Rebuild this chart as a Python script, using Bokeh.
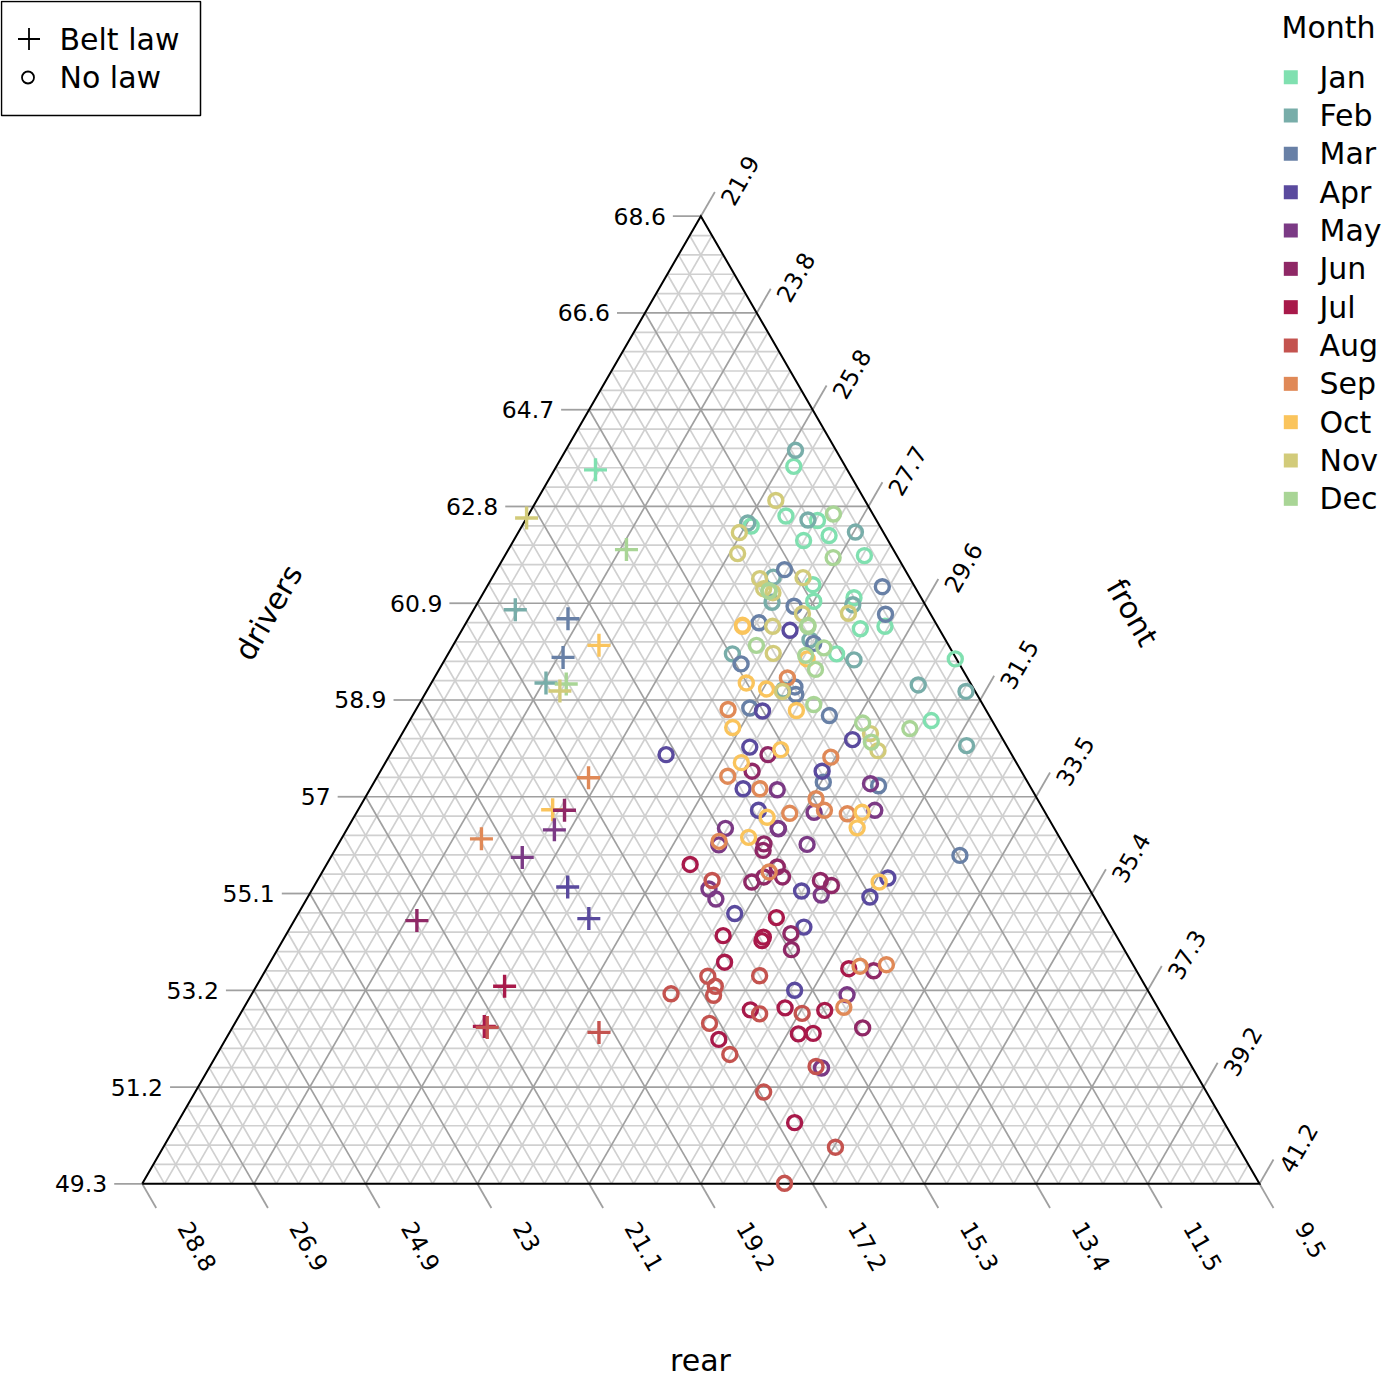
import math
from bokeh.plotting import figure
from bokeh.models import Range1d, ColumnDataSource
from bokeh.embed import file_html
from bokeh.resources import INLINE
from bokeh.core.properties import value

# ---------------- data (percentage shares of killed / seriously injured) ----------------
months = ["Jan", "Feb", "Mar", "Apr", "May", "Jun", "Jul", "Aug", "Sep", "Oct", "Nov", "Dec"]
month_colors = ["#80E0B0", "#78ADA9", "#6880A6", "#5A4A9E", "#7B3A85", "#8F2866",
                "#A8194A", "#C4534F", "#E08957", "#FAC45C", "#D2CB7A", "#A9D596"]

# months without the seat-belt law
nolaw_month = (
    ["Jan"] * 15 + ["Feb"] * 14 + ["Mar"] * 14 + ["Apr"] * 14 + ["May"] * 14 + ["Jun"] * 14 +
    ["Jul"] * 14 + ["Aug"] * 14 + ["Sep"] * 14 + ["Oct"] * 14 + ["Nov"] * 14 + ["Dec"] * 14
)
nolaw_drivers = [
    63.61, 62.62, 62.53, 62.42, 62.13, 62.23, 61.83, 61.25, 60.92, 60.99, 60.37, 60.42, 59.87, 59.77, 58.54,
    63.93, 62.54, 62.48, 62.30, 61.40, 60.90, 60.85, 60.15, 59.75, 59.87, 59.15, 59.25, 59.12, 58.04,
    61.55, 60.82, 61.21, 60.66, 60.49, 60.08, 59.67, 59.21, 59.06, 58.79, 58.64, 57.31, 57.24, 55.85,
    60.34, 58.73, 58.16, 57.86, 58.01, 57.53, 57.18, 56.75, 55.14, 55.40, 55.02, 54.69, 54.42, 53.16,
    57.28, 57.16, 56.71, 56.75, 56.39, 56.39, 56.06, 56.07, 55.18, 54.98, 55.06, 53.07, 51.61, 56.38,
    57.86, 57.53, 56.08, 55.95, 55.42, 55.42, 55.32, 55.35, 55.25, 54.29, 53.97, 53.55, 52.41, 55.62,
    55.67, 54.61, 54.25, 54.22, 54.15, 53.72, 53.59, 52.77, 52.81, 52.76, 52.18, 52.29, 52.30, 50.52,
    55.35, 53.44, 53.24, 53.45, 53.09, 53.06, 52.69, 52.70, 52.50, 51.88, 51.64, 51.13, 50.03, 49.31,
    59.39, 58.76, 57.81, 57.43, 57.18, 56.98, 56.69, 56.75, 56.68, 56.13, 55.52, 53.64, 53.67, 52.82,
    60.44, 59.77, 59.29, 59.17, 58.74, 58.40, 57.96, 57.70, 56.61, 56.71, 56.40, 56.21, 55.32, 60.42,
    62.93, 62.29, 61.87, 61.37, 61.17, 61.09, 61.39, 60.67, 60.68, 60.42, 59.88, 59.12, 58.28, 57.94,
    62.66, 61.79, 61.13, 60.44, 60.04, 59.99, 59.84, 59.56, 58.86, 58.49, 58.11, 58.38, 60.42, 61.12,
]
nolaw_front = [
    26.00, 26.36, 26.95, 25.86, 26.91, 27.30, 28.11, 27.51, 27.69, 28.35, 28.77, 29.17, 28.61, 30.71, 30.91,
    25.87, 26.78, 25.77, 27.72, 26.75, 26.98, 28.40, 28.01, 28.97, 26.81, 28.05, 30.33, 31.22, 31.77,
    26.87, 27.40, 28.73, 29.06, 26.96, 28.11, 27.06, 28.22, 28.31, 27.65, 29.10, 29.66, 30.65, 32.75,
    27.57, 27.90, 29.74, 26.67, 28.04, 29.53, 28.34, 28.82, 30.37, 31.73, 31.61, 29.44, 30.77, 31.24,
    30.49, 28.94, 29.80, 30.83, 29.34, 28.43, 28.48, 30.00, 28.75, 28.97, 30.75, 32.19, 32.48, 29.35,
    28.43, 28.32, 29.25, 29.30, 29.90, 29.58, 29.42, 30.59, 30.83, 30.61, 30.78, 32.41, 32.79, 29.71,
    28.18, 30.20, 29.46, 30.17, 30.18, 29.75, 31.96, 30.67, 31.25, 31.96, 30.42, 31.74, 31.99, 32.56,
    28.72, 29.60, 29.83, 30.49, 29.14, 29.89, 30.87, 31.60, 30.10, 30.76, 32.37, 31.72, 33.51, 32.99,
    28.00, 27.29, 29.54, 27.95, 28.63, 29.70, 29.39, 29.96, 30.39, 28.45, 29.62, 32.13, 32.57, 32.26,
    26.70, 28.15, 27.34, 27.75, 28.48, 27.55, 28.60, 28.05, 29.04, 30.63, 30.70, 28.92, 31.62, 26.71,
    26.03, 25.72, 25.90, 26.53, 26.70, 26.90, 27.27, 27.62, 28.41, 27.23, 27.51, 28.05, 29.99, 30.29,
    27.16, 27.59, 26.81, 27.83, 27.14, 28.33, 28.09, 28.40, 28.72, 29.75, 30.09, 30.62, 27.84, 26.82,
]

# months with the seat-belt law
law_month = ["Jan", "Nov", "Dec", "Feb", "Mar", "Oct", "Mar", "Feb", "Dec", "Nov", "Sep", "Oct",
             "Jun", "May", "Sep", "May", "Apr", "Apr", "Jun", "Jul", "Jul", "Aug", "Aug"]
law_drivers = [63.54, 62.58, 61.95, 60.75, 60.57, 60.04, 59.80, 59.29, 59.27, 59.13, 57.40, 56.76,
               56.75, 56.36, 56.18, 55.81, 55.22, 54.59, 54.55, 53.24, 52.44, 52.42, 52.32]
law_front = [22.61, 21.90, 23.94, 22.62, 23.62, 24.42, 23.92, 23.88, 24.24, 24.20, 25.56, 25.26,
             25.47, 25.49, 24.32, 25.21, 26.29, 26.97, 24.02, 26.19, 26.24, 26.30, 28.28]

drivers_tick_labels = ["49.3", "51.2", "53.2", "55.1", "57", "58.9", "60.9", "62.8", "64.7", "66.6", "68.6"]
front_tick_labels = ["21.9", "23.8", "25.8", "27.7", "29.6", "31.5", "33.5", "35.4", "37.3", "39.2", "41.2"]
rear_tick_labels = ["9.5", "11.5", "13.4", "15.3", "17.2", "19.2", "21.1", "23", "24.9", "26.9", "28.8"]

DRIVERS_MIN, FRONT_MIN, REAR_MIN, SPAN = 49.3, 21.9, 9.5, 19.3

# ---------------- geometry ----------------
H = math.sqrt(3) / 2
S = 1117.3              # pixels per unit triangle side
OX, OY = 141.7, 1183.3  # screen position of the bottom-left vertex
WIDTH = HEIGHT = 1400
FONT = "DejaVu Sans"


def tern(d, f):
    r = 100.0 - d - f
    a = (d - DRIVERS_MIN) / SPAN
    b = (f - FRONT_MIN) / SPAN
    c = (r - REAR_MIN) / SPAN
    tot = a + b + c
    a, b = a / tot, b / tot
    return b + a / 2.0, a * H


def px(x, y):
    return (x - OX) / S, (OY - y) / S


p = figure(width=WIDTH, height=HEIGHT,
           x_range=Range1d(-OX / S, (WIDTH - OX) / S),
           y_range=Range1d(-(HEIGHT - OY) / S, OY / S),
           x_axis_location=None, y_axis_location=None,
           toolbar_location=None, output_backend="svg",
           min_border=0, outline_line_color=None,
           background_fill_color="white", border_fill_color="white")
p.xgrid.visible = False
p.ygrid.visible = False

# ---------------- grid ----------------
minor_xs, minor_ys, major_xs, major_ys = [], [], [], []
for k in range(1, 50):
    t = k / 50.0
    segs = [
        ([t / 2, 1 - t / 2], [t * H, t * H]),                 # drivers constant
        ([t, (1 + t) / 2], [0, (1 - t) * H]),                 # front constant
        ([1 - t, (1 - t) / 2], [0, (1 - t) * H]),             # rear constant
    ]
    for xs, ys in segs:
        if k % 5 == 0:
            major_xs.append(xs); major_ys.append(ys)
        else:
            minor_xs.append(xs); minor_ys.append(ys)
p.multi_line(minor_xs, minor_ys, line_color="#D0D0D0", line_width=1.7)
p.multi_line(major_xs, major_ys, line_color="#A0A0A0", line_width=1.7)

# ---------------- ticks and labels ----------------
TL = 28.0 / S
c60, s60 = 0.5, H
tick_xs, tick_ys = [], []
dl_x, dl_y, fl_x, fl_y, rl_x, rl_y = [], [], [], [], [], []
for k in range(11):
    t = k / 10.0
    # drivers (left edge)
    bx, by = t / 2, t * H
    tick_xs.append([bx, bx - TL]); tick_ys.append([by, by])
    dl_x.append(bx - 35.0 / S); dl_y.append(by)
    # front (right edge)
    bx, by = (1 + t) / 2, (1 - t) * H
    tick_xs.append([bx, bx + TL * c60]); tick_ys.append([by, by + TL * s60])
    fl_x.append(bx + 26.0 / S); fl_y.append(by + 13.0 / S)
    # rear (bottom edge)
    bx, by = 1 - t, 0.0
    tick_xs.append([bx, bx + TL * c60]); tick_ys.append([by, by - TL * s60])
    rl_x.append(bx + 42.0 / S); rl_y.append(by - 40.0 / S)
p.multi_line(tick_xs, tick_ys, line_color="#A0A0A0", line_width=1.8)

TICK_FS = "23.5px"
p.text(dl_x, dl_y, text=drivers_tick_labels, text_align="right", text_baseline="middle",
       text_font=value(FONT), text_font_size=TICK_FS, text_color="black")
p.text(fl_x, fl_y, text=front_tick_labels, angle=math.pi / 3, text_align="left", text_baseline="middle",
       text_font=value(FONT), text_font_size=TICK_FS, text_color="black")
p.text(rl_x, rl_y, text=rear_tick_labels, angle=-math.pi / 3, text_align="left", text_baseline="middle",
       text_font=value(FONT), text_font_size=TICK_FS, text_color="black")

# ---------------- border ----------------
p.line([0, 1, 0.5, 0], [0, 0, H, 0], line_color="black", line_width=2, line_join="miter")

# ---------------- points ----------------
cmap = dict(zip(months, month_colors))
nx, ny = zip(*[tern(d, f) for d, f in zip(nolaw_drivers, nolaw_front)])
src_no = ColumnDataSource(dict(x=list(nx), y=list(ny), c=[cmap[m] for m in nolaw_month]))
p.scatter("x", "y", source=src_no, marker="circle", size=14, fill_color=None,
          line_color="c", line_width=3.4)

lx, ly = zip(*[tern(d, f) for d, f in zip(law_drivers, law_front)])
src_law = ColumnDataSource(dict(x=list(lx), y=list(ly), c=[cmap[m] for m in law_month]))
p.scatter("x", "y", source=src_law, marker="cross", size=23, line_color="c", line_width=3.4)

# ---------------- axis titles ----------------
TITLE_FS = "30px"
x, y = px(268, 612)
p.text([x], [y], text=["drivers"], angle=math.pi / 3, text_align="center", text_baseline="middle",
       text_font=value(FONT), text_font_size=TITLE_FS)
x, y = px(1132, 612)
p.text([x], [y], text=["front"], angle=-math.pi / 3, text_align="center", text_baseline="middle",
       text_font=value(FONT), text_font_size=TITLE_FS)
x, y = px(700, 1360)
p.text([x], [y], text=["rear"], text_align="center", text_baseline="middle",
       text_font=value(FONT), text_font_size=TITLE_FS)

# ---------------- legends ----------------
LEG_FS = "30px"
l, t_ = px(1, 1)
r_, b_ = px(200, 115)
p.quad(left=[l], right=[r_], top=[t_], bottom=[b_], fill_color="white", line_color="black", line_width=1.5)
x, y = px(28.5, 38.5)
p.scatter([x], [y], marker="cross", size=22, line_color="black", line_width=1.8)
x, y = px(27.5, 77)
p.scatter([x], [y], marker="circle", size=12, fill_color=None, line_color="black", line_width=1.8)
x1, y1 = px(59, 38.5)
x2, y2 = px(59, 77)
p.text([x1, x2], [y1, y2], text=["Belt law", "No law"], text_align="left", text_baseline="middle",
       text_font=value(FONT), text_font_size=LEG_FS)

x, y = px(1281, 27)
p.text([x], [y], text=["Month"], text_align="left", text_baseline="middle",
       text_font=value(FONT), text_font_size=LEG_FS)
sq_x, sq_y, lab_x, lab_y = [], [], [], []
for i, m in enumerate(months):
    sx, sy = px(1290.3, 76.7 + 38.33 * i)
    tx, ty = px(1319, 76.7 + 38.33 * i)
    sq_x.append(sx); sq_y.append(sy); lab_x.append(tx); lab_y.append(ty)
p.scatter(sq_x, sq_y, marker="square", size=14, fill_color=month_colors, line_color=None)
p.text(lab_x, lab_y, text=months, text_align="left", text_baseline="middle",
       text_font=value(FONT), text_font_size=LEG_FS)

open("out.html", "w").write(file_html(p, INLINE))
